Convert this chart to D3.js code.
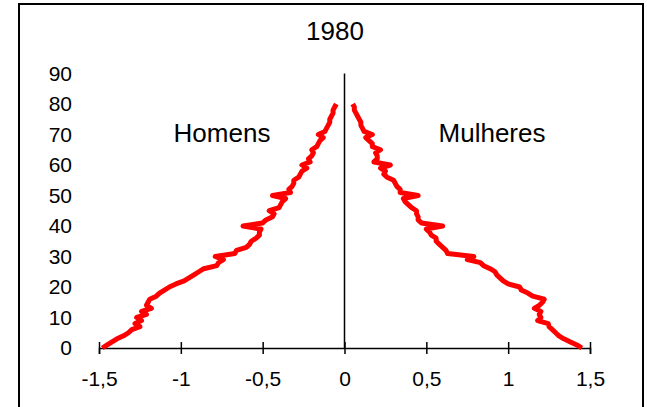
<!DOCTYPE html>
<html>
<head>
<meta charset="utf-8">
<script src="https://cdn.jsdelivr.net/npm/d3@7"></script>
<style>
  html, body { margin: 0; padding: 0; background: #fff; }
  svg { display: block; }
  text { font-family: "Liberation Sans", Arial, sans-serif; fill: #000; }
</style>
</head>
<body>
<div id="chart"></div>
<script>
const title = "1980";
const ages = d3.range(0, 81);
// Share of population (%) by single year of age, men shown as negative
const homens = [
  -1.48, -1.45, -1.42, -1.39, -1.35, -1.32, -1.30, -1.25, -1.28, -1.24,
  -1.27, -1.21, -1.24, -1.18, -1.21, -1.20, -1.19, -1.15, -1.13, -1.10,
  -1.07, -1.03, -0.98, -0.95, -0.92, -0.89, -0.86, -0.78, -0.77, -0.74,
  -0.79, -0.67, -0.66, -0.60, -0.58, -0.57, -0.54, -0.52, -0.52, -0.51,
  -0.62, -0.50, -0.48, -0.44, -0.43, -0.46, -0.40, -0.39, -0.38, -0.36,
  -0.44, -0.33, -0.34, -0.32, -0.31, -0.31, -0.28, -0.27, -0.26, -0.23,
  -0.26, -0.21, -0.22, -0.20, -0.19, -0.20, -0.17, -0.16, -0.15, -0.13,
  -0.16, -0.12, -0.11, -0.10, -0.09, -0.09, -0.08, -0.07, -0.07, -0.06,
  -0.05
];
const mulheres = [
  1.45, 1.42, 1.38, 1.34, 1.31, 1.29, 1.27, 1.25, 1.245, 1.18,
  1.20, 1.19, 1.20, 1.16, 1.19, 1.21, 1.22, 1.15, 1.12, 1.08,
  1.07, 1.00, 0.97, 0.95, 0.93, 0.92, 0.89, 0.85, 0.83, 0.75,
  0.79, 0.63, 0.62, 0.60, 0.58, 0.56, 0.56, 0.53, 0.52, 0.50,
  0.60, 0.47, 0.45, 0.45, 0.44, 0.44, 0.41, 0.39, 0.37, 0.36,
  0.45, 0.34, 0.34, 0.32, 0.31, 0.30, 0.26, 0.24, 0.25, 0.22,
  0.28, 0.18, 0.20, 0.20, 0.19, 0.22, 0.17, 0.17, 0.15, 0.13,
  0.17, 0.12, 0.11, 0.10, 0.10, 0.09, 0.08, 0.07, 0.06, 0.06,
  0.05
];
const xTicks = [-1.5, -1, -0.5, 0, 0.5, 1, 1.5];
const xTickLabels = ["-1,5", "-1", "-0,5", "0", "0,5", "1", "1,5"];
const yTicks = [0, 10, 20, 30, 40, 50, 60, 70, 80, 90];
const seriesLabels = ["Homens", "Mulheres"];

const W = 647, H = 407;
const svg = d3.select("#chart").append("svg").attr("width", W).attr("height", H);

// outer frame
svg.append("rect").attr("x", 19).attr("y", 4).attr("width", 624).attr("height", 410)
  .attr("fill", "none").attr("stroke", "#000").attr("stroke-width", 2);

const x = d3.scaleLinear().domain([-1.5, 1.5]).range([99, 590]);
const y = d3.scaleLinear().domain([0, 90]).range([348, 73.5]);

// title
svg.append("text").attr("x", 335).attr("y", 40).attr("text-anchor", "middle")
  .style("font-size", "26px").text(title);

// x axis
const xAxis = svg.append("g").attr("transform", `translate(0,${y(0)})`)
  .call(d3.axisBottom(x).tickValues(xTicks).tickSizeOuter(0).tickSize(6).tickPadding(17)
    .tickFormat((d, i) => xTickLabels[i]));
xAxis.select(".domain").attr("stroke", "#000").attr("stroke-width", 1.5);
xAxis.selectAll(".tick line").attr("y1", -6).attr("y2", 6).attr("stroke", "#000").attr("stroke-width", 1.5);
xAxis.selectAll(".tick text").style("font-size", "21px").attr("font-family", null).attr("fill", "#000");

// y axis labels (low position)
const yAxis = svg.append("g").attr("transform", `translate(72,0)`)
  .call(d3.axisLeft(y).tickValues(yTicks).tickSize(0).tickPadding(0));
yAxis.select(".domain").remove();
yAxis.selectAll(".tick text").style("font-size", "21px").attr("font-family", null).attr("fill", "#000");

// vertical axis at 0
svg.append("line").attr("x1", x(0)).attr("x2", x(0)).attr("y1", y(90)).attr("y2", y(0))
  .attr("stroke", "#000").attr("stroke-width", 1.5);

const line = d3.line().x(d => x(d[0])).y(d => y(d[1]));
[homens, mulheres].forEach(s => {
  svg.append("path").datum(s.map((v, i) => [v, ages[i]]))
    .attr("d", line).attr("fill", "none").attr("stroke", "#ff0000")
    .attr("stroke-width", 5).attr("stroke-linejoin", "round").attr("stroke-linecap", "butt");
});

// series labels
svg.append("text").attr("x", 222).attr("y", 142).attr("text-anchor", "middle")
  .style("font-size", "26px").text(seriesLabels[0]);
svg.append("text").attr("x", 492).attr("y", 142).attr("text-anchor", "middle")
  .style("font-size", "26px").text(seriesLabels[1]);
</script>
</body>
</html>
